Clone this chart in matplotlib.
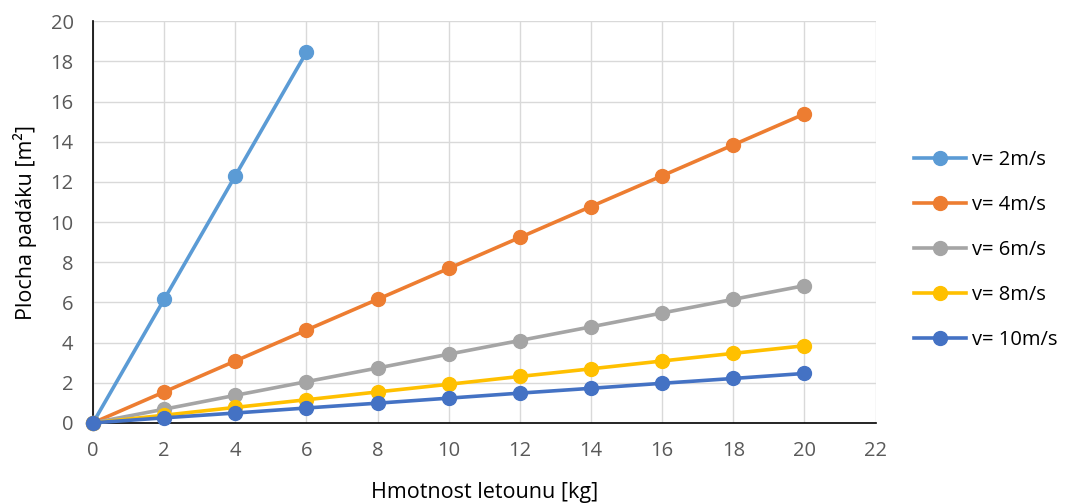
import matplotlib.pyplot as plt

plt.rcParams['font.family'] = ['Open Sans', 'DejaVu Sans']

mass = [0, 2, 4, 6, 8, 10, 12, 14, 16, 18, 20]
area_v2 = [0, 6.15, 12.3, 18.45]
area_v4 = [0, 1.54, 3.08, 4.62, 6.15, 7.69, 9.23, 10.77, 12.3, 13.84, 15.38]
area_v6 = [0, 0.68, 1.37, 2.05, 2.73, 3.42, 4.10, 4.78, 5.47, 6.15, 6.83]
area_v8 = [0, 0.38, 0.77, 1.15, 1.54, 1.92, 2.31, 2.69, 3.08, 3.46, 3.84]
area_v10 = [0, 0.25, 0.49, 0.74, 0.98, 1.23, 1.48, 1.72, 1.97, 2.21, 2.46]
labels = ['v= 2m/s', 'v= 4m/s', 'v= 6m/s', 'v= 8m/s', 'v= 10m/s']
colors = ['#5B9BD5', '#ED7D31', '#A5A5A5', '#FFC000', '#4472C4']

fig = plt.figure(figsize=(10.69, 5.04), dpi=100)
ax = fig.add_axes([0.087, 0.161, 0.732, 0.797])

series = [area_v2, area_v4, area_v6, area_v8, area_v10]
for vals, lab, col in zip(series, labels, colors):
    ax.plot(mass[:len(vals)], vals, color=col, lw=2.6, marker='o', ms=10,
            label=lab, clip_on=False, zorder=3)

ax.set_xlim(0, 22)
ax.set_ylim(0, 20)
ax.set_xticks(range(0, 23, 2))
ax.set_yticks(range(0, 21, 2))
ax.grid(True, color='#D9D9D9', lw=1)
ax.set_axisbelow(True)
for s in ['top', 'right']:
    ax.spines[s].set_visible(False)
for s in ['left', 'bottom']:
    ax.spines[s].set_color('black')
    ax.spines[s].set_linewidth(1.2)
ax.tick_params(length=0, labelsize=14.5, colors='#595959')
ax.tick_params(axis='x', pad=13)
ax.tick_params(axis='y', pad=14)

ax.set_xlabel('Hmotnost letounu [kg]', fontsize=15.5, labelpad=15)
ax.set_ylabel('Plocha padáku [m²]', fontsize=15.5, labelpad=10)

ax.legend(loc='center left', bbox_to_anchor=(1.026, 0.43), frameon=False,
          fontsize=14.5, handlelength=2.6, labelspacing=1.25, handletextpad=0.3)

fig.savefig('out.png', dpi=100)
